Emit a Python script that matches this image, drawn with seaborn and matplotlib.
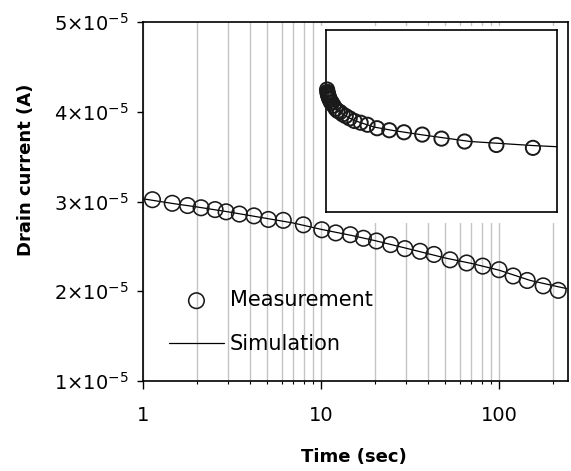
import matplotlib
matplotlib.use("Agg")
import numpy as np
import pandas as pd
import matplotlib.pyplot as plt
import seaborn as sns
from matplotlib.ticker import FuncFormatter, LogLocator, NullFormatter, FixedLocator
from matplotlib.patches import Rectangle

# measured drain current (A) vs time (sec)
time_meas = [1.13, 1.46, 1.78, 2.12, 2.54, 2.93, 3.48, 4.2, 5.06, 6.14, 7.96,
             10.1, 12.1, 14.6, 17.3, 20.5, 24.6, 29.6, 36.0, 43.1, 53.1, 65.8,
             81, 100, 120, 144, 177, 215]
current_meas = [3.02, 2.98, 2.955, 2.93, 2.91, 2.885, 2.86, 2.84, 2.80, 2.79, 2.74,
                2.685, 2.65, 2.63, 2.59, 2.56, 2.52, 2.475, 2.445, 2.41, 2.35, 2.315,
                2.28, 2.24, 2.17, 2.12, 2.06, 2.01]

# simulation
time_sim = [1, 1.5, 2, 3, 5, 7, 10, 15, 20, 30, 50, 70, 100, 150, 215, 240]
current_sim = [3.03, 2.975, 2.94, 2.885, 2.81, 2.76, 2.69, 2.62, 2.565, 2.48,
               2.37, 2.31, 2.235, 2.12, 2.05, 2.03]

y_ticks = [1, 2, 3, 4, 5]
x_ticks = [1, 10, 100]

meas = pd.DataFrame({"t": time_meas, "I": np.array(current_meas) * 1e-5})
sim = pd.DataFrame({"t": time_sim, "I": np.array(current_sim) * 1e-5})

sns.set_theme(style="white")
plt.rcParams["font.family"] = ["DejaVu Sans"]
plt.rcParams["mathtext.fontset"] = "dejavusans"
plt.rcParams["text.color"] = "black"
plt.rcParams["axes.labelcolor"] = "black"
plt.rcParams["xtick.color"] = "black"
plt.rcParams["ytick.color"] = "black"

fig = plt.figure(figsize=(5.71, 4.71), dpi=100)
ax = fig.add_axes([143 / 571, 90 / 471, 425 / 571, 359 / 471])

sns.scatterplot(data=meas, x="t", y="I", ax=ax, marker="o", s=125,
                facecolor="none", edgecolor="#1a1a1a", linewidth=1.15,
                label="Measurement", zorder=3)
sns.lineplot(data=sim, x="t", y="I", ax=ax, color="black", linewidth=0.9,
             label="Simulation", zorder=2)

ax.set_xscale("log")
ax.set_xlim(1, 244)
ax.set_ylim(1e-5, 5e-5)
ax.xaxis.set_major_locator(FixedLocator(x_ticks))
ax.xaxis.set_major_formatter(FuncFormatter(lambda v, p: f"{v:g}"))
ax.xaxis.set_minor_locator(LogLocator(base=10, subs=np.arange(2, 10)))
ax.xaxis.set_minor_formatter(NullFormatter())
ax.yaxis.set_major_locator(FixedLocator([v * 1e-5 for v in y_ticks]))
ax.yaxis.set_major_formatter(
    FuncFormatter(lambda v, p: r"$%d{\times}10^{-5}$" % round(v * 1e5)))

ax.grid(True, which="both", axis="x", color="#c4c4c4", linewidth=1.0)
ax.grid(False, axis="y")
ax.set_axisbelow(True)

for s in ax.spines.values():
    s.set_color("black")
    s.set_linewidth(1.2)

ax.tick_params(axis="x", which="major", direction="out", length=6, width=1,
               color="black", labelsize=14, pad=12, bottom=True)
ax.tick_params(axis="x", which="minor", direction="out", length=2.5, width=0.8,
               color="black", bottom=True)
ax.tick_params(axis="y", direction="out", length=4.5, width=1, color="black",
               labelsize=14, pad=6, left=True)

ax.set_xlabel("Time (sec)", fontsize=13, fontweight="bold")
ax.set_ylabel("Drain current (A)", fontsize=13, fontweight="bold")
ax.xaxis.set_label_coords(0.497, -0.186)
ax.yaxis.set_label_coords(-0.255, 0.588)

handles, labels = ax.get_legend_handles_labels()
ax.legend(handles, labels, loc="upper left", bbox_to_anchor=(0.062, 0.253),
          frameon=False, fontsize=15, handlelength=2.6, handletextpad=0.3,
          labelspacing=1.15, borderpad=0, borderaxespad=0)

# white area behind the inset
ax.add_patch(Rectangle((319 / 571, 248 / 471), 248 / 571, 197 / 471,
                       transform=fig.transFigure, facecolor="white",
                       edgecolor="none", zorder=1))

# inset: linear time axis
ins = fig.add_axes([326 / 571, 259 / 471, 231 / 571, 182 / 471])
sns.scatterplot(data=meas, x="t", y="I", ax=ins, marker="o", s=105,
                facecolor="none", edgecolor="#1a1a1a", linewidth=1.4,
                legend=False, zorder=3, clip_on=False)
sns.lineplot(data=sim, x="t", y="I", ax=ins, color="black", linewidth=0.9,
             legend=False, zorder=2)
ins.set_xlim(0, 240)
ins.set_ylim(0.9e-5, 4.05e-5)
ins.set_xticks([])
ins.set_yticks([])
ins.set_xlabel("")
ins.set_ylabel("")
for s in ins.spines.values():
    s.set_color("black")
    s.set_linewidth(1.2)

fig.savefig("out.png", dpi=100)
